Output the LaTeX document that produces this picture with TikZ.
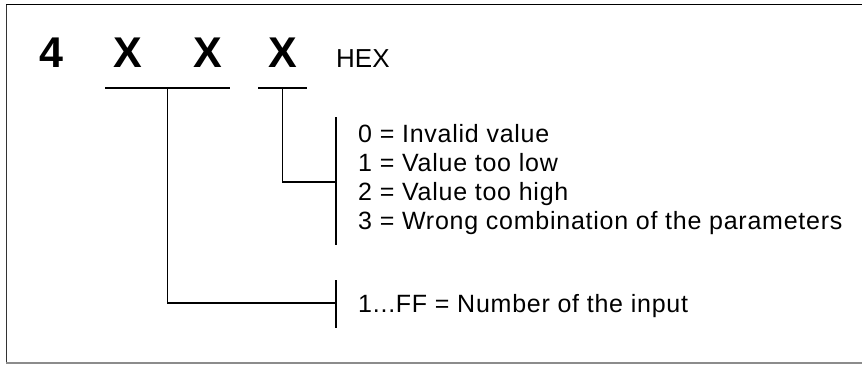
\documentclass[tikz,border=0pt]{standalone}
\usepackage{fontspec}
\setmainfont{Liberation Sans}
\begin{document}
\begin{tikzpicture}[x=1pt,y=-1pt,
  line/.style={line width=1.6pt},
  digit/.style={font=\bfseries\fontsize{43}{43}\selectfont, anchor=base, inner sep=0pt},
  unit/.style={font=\fontsize{26}{26}\selectfont, anchor=base west, inner sep=0pt},
  desc/.style={font=\fontsize{25}{29}\selectfont\addfontfeature{LetterSpace=3}, anchor=base west, inner sep=0pt}]
\useasboundingbox (0,0) rectangle (862,365);

% frame
\draw[line width=1.8pt] (6,4.5) -- (862,4.5);
\draw[line width=1pt, black!80] (6,4.5) -- (6,363);
\draw[line width=1.4pt, black!45] (6,363) -- (862,363);

% error code digits
\node[digit] (d4) at (51,67) {4};
\node[digit] (x1) at (127.5,67) {X};
\node[digit] (x2) at (207.5,67) {X};
\node[digit] (x3) at (282.5,67) {X};
\node[unit] (hex) at (336,67) {HEX};

% underlines below the digit groups
\coordinate (u1a) at (105,88);
\coordinate (u1b) at (230,88);
\coordinate (u1m) at (167.5,88);
\coordinate (u2a) at (258,88);
\coordinate (u2b) at (307,88);
\coordinate (u2m) at (282.5,88);

% brackets in front of the descriptions
\coordinate (b1t) at (336,117);
\coordinate (b1b) at (336,245);
\coordinate (b1m) at (336,182);
\coordinate (b2t) at (336,280);
\coordinate (b2b) at (336,328);
\coordinate (b2m) at (336,303);

\draw[line] (u1a) -- (u1b);
\draw[line] (u2a) -- (u2b);
\draw[line] (u2m) |- (b1m);
\draw[line] (b1t) -- (b1b);
\draw[line] (u1m) |- (b2m);
\draw[line] (b2t) -- (b2b);

% descriptions
\node[desc] (c0) at (358,142) {0 = Invalid value};
\node[desc] (c1) at (358,171) {1 = Value too low};
\node[desc] (c2) at (358,200) {2 = Value too high};
\node[desc] (c3) at (358,229) {3 = Wrong combination of the parameters};
\node[desc] (input) at (358,312) {1...FF = Number of the input};
\end{tikzpicture}
\end{document}
